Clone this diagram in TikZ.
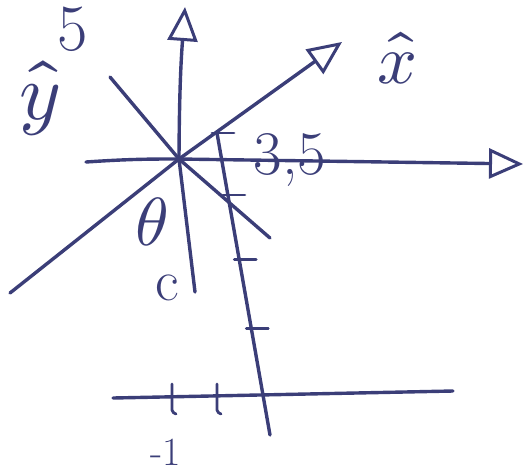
\documentclass[tikz,border=0pt]{standalone}
\usepackage{fontspec}
\usepackage{unicode-math}
\usetikzlibrary{arrows.meta, calc}
\definecolor{ink}{HTML}{3B3E78}

\begin{document}
\begin{tikzpicture}[x=1pt, y=-1pt,
  pen/.style={draw=ink, line width=3.4pt, line cap=round, line join=round},
  tip/.style={-{Triangle[open, length=34pt, width=30pt, line width=3pt]}},
  lbl/.style={text=ink, inner sep=0pt}
]
\useasboundingbox (0,0) rectangle (524,475);

% axes through O
\coordinate (O) at (179,159);
\coordinate (hl) at (86,162);
\coordinate (hr) at (523,164);
\coordinate (vb) at (195,292);
\coordinate (vt) at (185,7);
\coordinate (xl) at (10,293);
\coordinate (xr) at (342,42);
\coordinate (yl) at (110,77);
\coordinate (yr) at (270,238);

\draw[pen, tip] (hl) to[bend left=2] (O) -- (hr);
\draw[pen, tip] (vb) -- (O) to[bend left=2] (vt);
\draw[pen, tip] (xl) -- (O) -- (xr);
\draw[pen] (yl) -- (O) -- (yr);

% second frame
\coordinate (ta) at (217,133);
\coordinate (tb) at (270,435);
\coordinate (bl) at (113,398);
\coordinate (br) at (453,391);
\draw[pen] (ta) -- (tb);
\draw[pen] (bl) -- (br);

\foreach \p in {0,0.205,0.42,0.647}
  \draw[pen, line width=2.8pt] ($(ta)!\p!(tb)$) +(-5,0) -- +(17,0);
\foreach \x in {172,217}
  \draw[pen, line width=2.8pt] (\x,384) -- (\x,410) to[bend right=30] (\x+4,414);

% labels
\node[lbl, font=\fontsize{66}{66}\selectfont] (five) at (73,29) {5};
\node[lbl, font=\fontsize{80}{80}\selectfont] (yhat) at (40,98) {$\hat{y}$};
\node[lbl, font=\fontsize{70}{70}\selectfont] (xhat) at (398,58) {$\hat{x}$};
\node[lbl, font=\fontsize{62}{62}\selectfont] (val) at (290,160) {3,5};
\node[lbl, font=\fontsize{68}{68}\selectfont] (theta) at (152,222) {$\theta$};
\node[lbl, font=\fontsize{58}{58}\selectfont] (cee) at (167,288) {c};
\node[lbl, font=\fontsize{40}{40}\selectfont] (mone) at (166,452) {-1};
\end{tikzpicture}
\end{document}
